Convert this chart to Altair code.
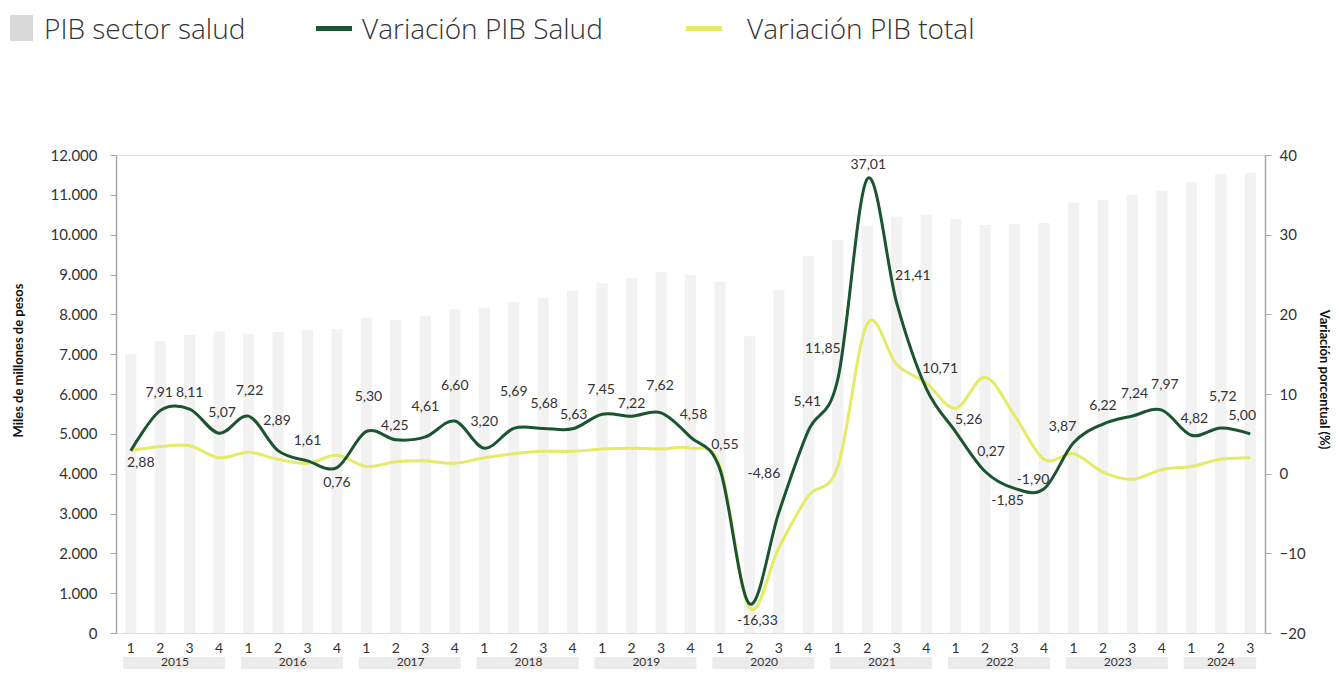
import altair as alt
import pandas as pd

# ---------------- data ----------------
years = (["2015"] * 4 + ["2016"] * 4 + ["2017"] * 4 + ["2018"] * 4 + ["2019"] * 4 +
         ["2020"] * 4 + ["2021"] * 4 + ["2022"] * 4 + ["2023"] * 4 + ["2024"] * 3)
quarters = ["1", "2", "3", "4"] * 9 + ["1", "2", "3"]

pib_sector_salud = [7005, 7330, 7480, 7575, 7515, 7557, 7607, 7632,
                    7915, 7858, 7966, 8127, 8167, 8310, 8410, 8594,
                    8780, 8920, 9063, 8988, 8812, 7449, 8611, 9465,
                    9867, 10226, 10452, 10502, 10394, 10243, 10268, 10294,
                    10803, 10879, 11004, 11105, 11315, 11524, 11557]

var_pib_salud = [2.88, 7.91, 8.11, 5.07, 7.22, 2.89, 1.61, 0.76,
                 5.30, 4.25, 4.61, 6.60, 3.20, 5.69, 5.68, 5.63,
                 7.45, 7.22, 7.62, 4.58, 0.55, -16.33, -4.86, 5.41,
                 11.85, 37.01, 21.41, 10.71, 5.26, 0.27, -1.85, -1.90,
                 3.87, 6.22, 7.24, 7.97, 4.82, 5.72, 5.00]

var_pib_total = [2.9, 3.4, 3.5, 2.0, 2.7, 1.8, 1.3, 2.3,
                 0.9, 1.5, 1.6, 1.3, 2.0, 2.5, 2.8, 2.8,
                 3.1, 3.2, 3.1, 3.2, 1.0, -16.8, -9.3, -2.8,
                 0.9, 18.8, 13.7, 11.4, 8.2, 12.1, 7.3, 1.8,
                 2.5, 0.2, -0.7, 0.5, 0.9, 1.8, 2.0]

legend_labels = ["PIB sector salud", "Variación PIB Salud", "Variación PIB total"]
left_ticks = list(range(0, 12001, 1000))
right_ticks = list(range(-20, 41, 10))

# ---------------- layout / style ----------------
FONT = "Lato"
LEGFONT = "Open Sans"
TXT = "#333333"
AXC = "#a6a6a6"
BAR = "#f2f2f2"
GREEN = "#1a5530"
YEL = "#e4eb66"

W, H = 1149, 478
N = len(years)
step = W / N
pct_px = H / 60.0

# pixel offsets of each data label from its point (dx, dy)
label_offsets = [(10, 12), (-1, -18), (0, -16), (3, -20), (1, -25), (-1, -30), (0, -20), (0, 15),
                 (2, -34), (-1, -14), (0, -30), (0, -35), (0, -26), (0, -36), (1, -24), (1, -14),
                 (-1, -24), (0, -12), (-1, -27), (3, -22), (5, -24), (8, 17), (-15, -38), (-1, -29),
                 (-15, -30), (1, -14), (16, -27), (14, -19), (13, -12), (6, -20), (-7, 13), (-11, -9),
                 (-11, -16), (0, -18), (2, -22), (3, -25), (3, -16), (2, -31), (-8, -18)]

df = pd.DataFrame({
    "year": years,
    "quarter": quarters,
    "pib": pib_sector_salud,
    "vs": var_pib_salud,
    "vt": var_pib_total,
})
df["idx"] = range(N)
df["pos"] = df["idx"] + 0.5
df["x0"] = df["idx"] + 0.31
df["x1"] = df["idx"] + 0.69
df["lbl"] = [f"{v:.2f}".replace(".", ",") for v in var_pib_salud]
df["lx"] = df["pos"] + [o[0] / step for o in label_offsets]
df["ly"] = df["vs"] - pd.Series([o[1] / pct_px for o in label_offsets])

yr = df.groupby("year", sort=False)["idx"].agg(["min", "max"]).reset_index()
yr["bx0"] = yr["min"] + 0.24
yr["bx1"] = yr["max"] + 1 - 0.30
yr["mid"] = (yr["min"] + yr["max"] + 1) / 2.0

xs = alt.Scale(domain=[0, N], nice=False, zero=False)
yl = alt.Scale(domain=[0, 12000], nice=False, zero=False)
yrs = alt.Scale(domain=[-20, 40], nice=False, zero=False)

base = alt.Chart(df)

bars = base.mark_rect(color=BAR).encode(
    x=alt.X("x0:Q", scale=xs, axis=alt.Axis(values=list(range(N + 1)), labels=False, ticks=True,
                                            tickSize=7, tickColor=AXC, tickWidth=1.2,
                                            domainColor=AXC, domainWidth=1.5, title=None, grid=False)),
    x2="x1:Q",
    y=alt.Y("pib:Q", scale=yl, axis=alt.Axis(
        values=left_ticks, orient="left", grid=False,
        labelExpr="replace(format(datum.value, ','), ',', '.')",
        labelFont=FONT, labelFontSize=15, labelColor=TXT, labelPadding=13,
        tickSize=6, tickColor=AXC, domainColor=AXC, domainWidth=1.5,
        title="Miles de millones de pesos", titleFont=FONT, titleFontSize=13,
        titleFontWeight="bold", titleColor="#111111", titleAngle=-90,
        titleX=-98, titleY=205, titleAlign="center", titleBaseline="middle")),
    y2=alt.datum(0),
)

yellow = base.mark_line(color=YEL, strokeWidth=3, interpolate="cardinal").encode(
    x=alt.X("pos:Q", scale=xs, axis=None),
    y=alt.Y("vt:Q", scale=yrs, axis=alt.Axis(
        values=right_ticks, orient="right", grid=False,
        labelFont=FONT, labelFontSize=15, labelColor=TXT, labelPadding=8,
        tickSize=6, tickColor=AXC, domainColor=AXC, domainWidth=1.5,
        title="Variación porcentual (%)", titleFont=FONT, titleFontSize=13,
        titleFontWeight="bold", titleColor="#111111", titleAngle=90,
        titleX=58, titleY=224, titleAlign="center", titleBaseline="middle")),
)
green = base.mark_line(color=GREEN, strokeWidth=3, interpolate="cardinal").encode(
    x=alt.X("pos:Q", scale=xs, axis=None),
    y=alt.Y("vs:Q", scale=yrs, axis=None),
)
labels = base.mark_text(font=FONT, fontSize=14, color=TXT, baseline="middle", align="center").encode(
    x=alt.X("lx:Q", scale=xs, axis=None),
    y=alt.Y("ly:Q", scale=yrs, axis=None),
    text="lbl:N",
)

qlabels = base.mark_text(font=FONT, fontSize=14, color=TXT, baseline="middle").encode(
    x=alt.X("pos:Q", scale=xs, axis=None),
    y=alt.value(H + 16),
    text="quarter:N",
)

ychart = alt.Chart(yr)
yboxes = ychart.mark_rect(color="#ebebeb").encode(
    x=alt.X("bx0:Q", scale=xs, axis=None),
    x2="bx1:Q",
    y=alt.value(H + 24),
    y2=alt.value(H + 40),
)
ytext = ychart.mark_text(font=FONT, fontSize=12, color=TXT, baseline="middle").encode(
    x=alt.X("mid:Q", scale=xs, axis=None),
    y=alt.value(H + 29),
    text="year:N",
)

# legend (top)
def legend_text(label, xpix):
    return alt.Chart(pd.DataFrame({"t": [label]})).mark_text(
        font=LEGFONT, fontSize=28, color=TXT, align="left", baseline="alphabetic", fontWeight=300
    ).encode(x=alt.value(xpix), y=alt.value(-116), text="t:N")

def legend_swatch(color, x0, x1, y0, y1):
    return alt.Chart(pd.DataFrame({"t": [0]})).mark_rect(color=color).encode(
        x=alt.value(x0), x2=alt.value(x1), y=alt.value(y0), y2=alt.value(y1))

chart = alt.layer(
    bars, yellow, green, labels, qlabels, yboxes, ytext,
    legend_swatch("#d9d9d9", -106, -83, -140, -114),
    legend_text(legend_labels[0], -72),
    legend_swatch(GREEN, 200, 236, -129, -124),
    legend_text(legend_labels[1], 246),
    legend_swatch(YEL, 570, 606, -129, -124),
    legend_text(legend_labels[2], 631),
).resolve_scale(
    y="independent"
).properties(
    width=W, height=H,
    autosize=alt.AutoSizeParams(type="none"),
    padding={"left": 108, "top": 147, "right": 66, "bottom": 36},
).configure_view(stroke=None).configure(background="white")

chart.save("out.html", embed_options={"renderer": "svg", "actions": False})
